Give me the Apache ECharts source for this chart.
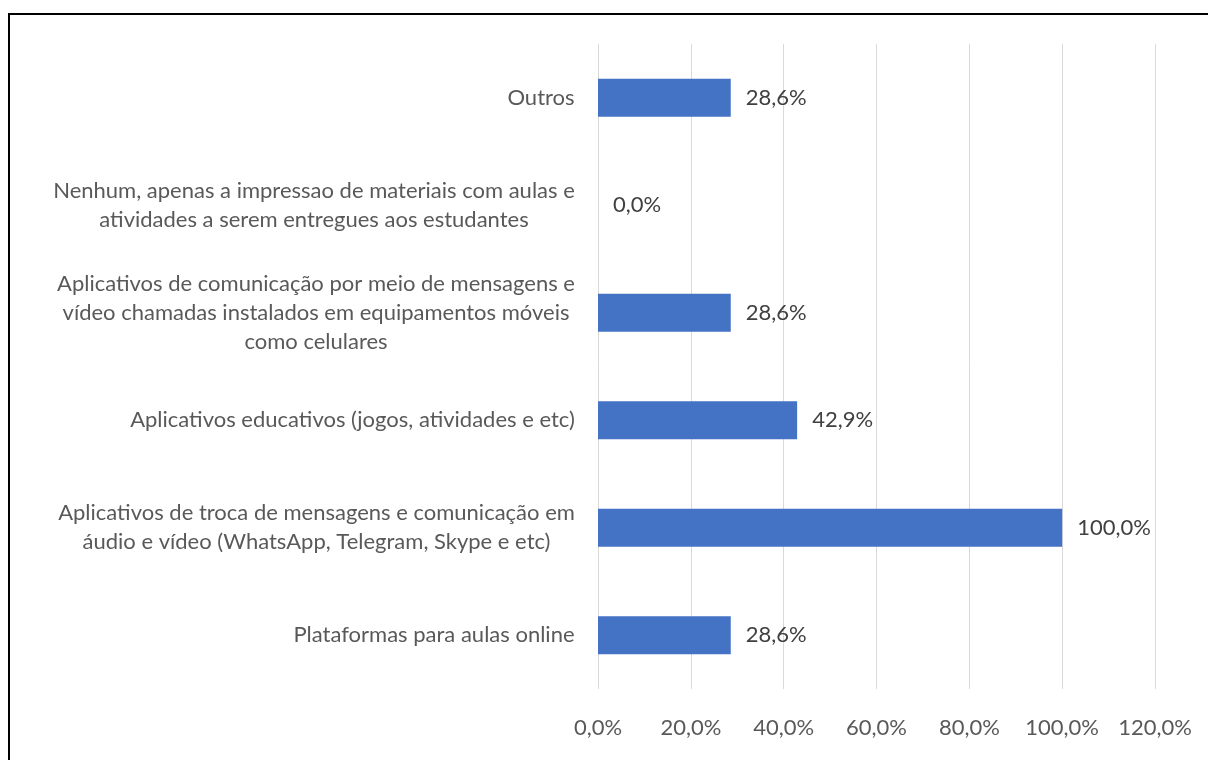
<!DOCTYPE html>
<html>
<head>
<meta charset="utf-8">
<script src="https://cdn.jsdelivr.net/npm/echarts@6/dist/echarts.min.js"></script>
<style>
html, body { margin: 0; padding: 0; background: #fff; }
#frame { position: absolute; left: 8px; top: 13px; width: 1220px; height: 780px; border: 2px solid #000; box-sizing: border-box; }
#chart { position: absolute; left: 0; top: 0; width: 1208px; height: 760px; }
</style>
</head>
<body>
<div id="frame"></div>
<div id="chart"></div>
<script>
// categories listed bottom to top (category axis starts at bottom)
var categories = [
	'Plataformas para aulas online',
	'Aplicativos de troca de mensagens e comunicação em\náudio e vídeo (WhatsApp, Telegram, Skype e etc)',
	'Aplicativos educativos (jogos, atividades e etc)',
	'Aplicativos de comunicação por meio de mensagens e\nvídeo chamadas instalados em equipamentos móveis\ncomo celulares',
	'Nenhum, apenas a impressao de materiais com aulas e\natividades a serem entregues aos estudantes',
	'Outros'
];
var values = [28.6, 100.0, 42.9, 28.6, 0.0, 28.6];
var xTicks = [0, 20, 40, 60, 80, 100, 120];

var fontName = 'Lato';
var fontSize = 22;

// widest line of each label, so lines can be centred inside a right-aligned block
var ctx = document.createElement('canvas').getContext('2d');
ctx.font = fontSize + 'px ' + fontName;
var rich = {};
categories.forEach(function(c, i) {
	var w = 0;
	c.split('\n').forEach(function(line) {
		w = Math.max(w, ctx.measureText(line).width);
	});
	rich['c' + i] = {
		width: Math.ceil(w),
		align: 'center',
		color: '#595959',
		fontFamily: fontName,
		fontSize: fontSize,
		lineHeight: 29
	};
});

var myChart = echarts.init(document.getElementById('chart'));
var option = {
	animation: false,
	grid: {
		left: 598,
		right: 53,
		top: 44,
		bottom: 71,
		containLabel: false
	},
	xAxis: {
		type: 'value',
		min: xTicks[0],
		max: xTicks[xTicks.length - 1],
		interval: 20,
		axisLine: { show: false },
		axisTick: { show: false },
		splitLine: {
			lineStyle: { color: '#d9d9d9', width: 1 }
		},
		axisLabel: {
			margin: 28,
			color: '#595959',
			fontFamily: fontName,
			fontSize: fontSize,
			formatter: function(v) {
				return v.toFixed(1).replace('.', ',') + '%';
			}
		}
	},
	yAxis: {
		type: 'category',
		data: categories,
		axisLine: { show: false },
		axisTick: { show: false },
		axisLabel: {
			margin: 23,
			align: 'right',
			rich: rich,
			formatter: function(v, i) {
				return v.split('\n').map(function(line) {
					return '{c' + i + '|' + line + '}';
				}).join('\n');
			}
		}
	},
	series: [{
		type: 'bar',
		data: values,
		barWidth: 38,
		itemStyle: { color: '#4472c4' },
		label: {
			show: true,
			position: 'right',
			distance: 15,
			color: '#404040',
			fontFamily: fontName,
			fontSize: fontSize,
			formatter: function(p) {
				return p.value.toFixed(1).replace('.', ',') + '%';
			}
		}
	}]
};
myChart.setOption(option);
</script>
</body>
</html>
